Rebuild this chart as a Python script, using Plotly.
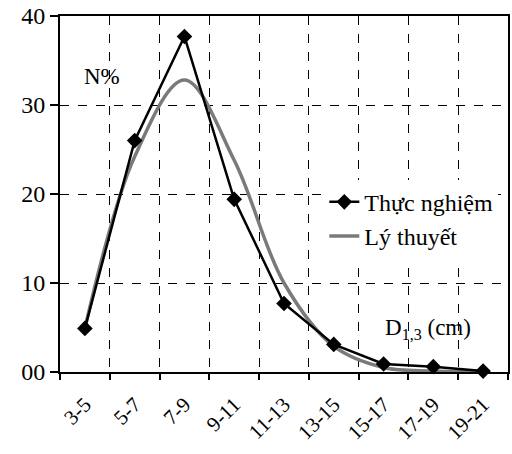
import plotly.graph_objects as go

categories = ["3-5", "5-7", "7-9", "9-11", "11-13", "13-15", "15-17", "17-19", "19-21"]
thuc_nghiem = [4.9, 26.0, 37.7, 19.4, 7.7, 3.1, 0.9, 0.6, 0.1]
ly_thuyet = [4.9, 24.2, 32.8, 23.8, 10.0, 2.9, 0.5, 0.1, 0.0]
y_tickvals = [0, 10, 20, 30, 40]
y_ticktext = ["00", "10", "20", "30", "40"]

FONT = "Liberation Serif"

fig = go.Figure()
fig.add_trace(go.Scatter(
    x=categories, y=ly_thuyet, name="Lý thuyết", mode="lines",
    line=dict(color="#7a7a7a", width=3.5, shape="spline", smoothing=1.0),
    cliponaxis=False,
))
fig.add_trace(go.Scatter(
    x=categories, y=thuc_nghiem, name="Thực nghiệm", mode="lines+markers",
    line=dict(color="black", width=2.5),
    marker=dict(symbol="diamond", size=12, color="black"),
    cliponaxis=False,
))

fig.update_layout(
    width=512, height=454,
    margin=dict(l=60, r=4, t=16, b=82, autoexpand=False),
    paper_bgcolor="white", plot_bgcolor="white",
    font=dict(family=FONT, color="black"),
    showlegend=True,
    legend=dict(
        x=0.59, y=0.54, xanchor="left", yanchor="top",
        bgcolor="white", font=dict(size=24, family=FONT),
        traceorder="reversed", tracegroupgap=0,
    ),
    xaxis=dict(
        type="category", tickson="boundaries", automargin=False,
        range=[-0.5, len(categories) - 0.5],
        showline=True, linecolor="black", linewidth=2, mirror=True,
        showgrid=True, gridcolor="black", griddash="dash", gridwidth=1,
        ticks="outside", ticklen=6, tickcolor="black", tickwidth=2,
        tickangle=-45, tickfont=dict(size=21, family=FONT),
        ticklabelstandoff=10,
        zeroline=False,
    ),
    yaxis=dict(
        range=[0, 40], tickvals=y_tickvals, ticktext=y_ticktext, automargin=False,
        showline=True, linecolor="black", linewidth=2, mirror=True,
        showgrid=True, gridcolor="black", griddash="dash", gridwidth=1,
        ticks="outside", ticklen=8, tickcolor="black", tickwidth=2,
        tickfont=dict(size=24, family=FONT), zeroline=False,
    ),
    annotations=[
        dict(text="N%", x=0.34, y=33.2, xref="x", yref="y", showarrow=False,
             font=dict(size=23, family=FONT), xanchor="center"),
        dict(text="D<sub>1,3</sub> (cm)", x=6.9, y=4.8, xref="x", yref="y",
             showarrow=False, font=dict(size=23, family=FONT), xanchor="center"),
    ],
)

fig.write_html("out.html")
